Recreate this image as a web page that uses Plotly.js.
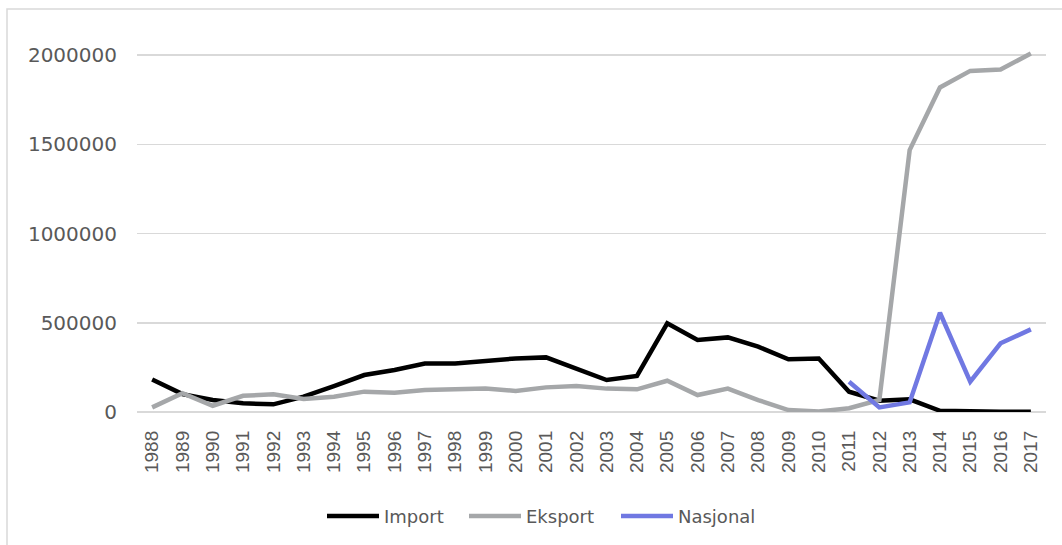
<!DOCTYPE html>
<html>
<head>
<meta charset="utf-8">
<script src="https://cdn.plot.ly/plotly-3.0.1.min.js"></script>
<style>html,body{margin:0;padding:0;background:#fff;}#chart{width:1062px;height:545px;}</style>
</head>
<body>
<div id="chart"></div>
<script>
const years = ['1988','1989','1990','1991','1992','1993','1994','1995','1996','1997','1998','1999','2000','2001','2002','2003','2004','2005','2006','2007','2008','2009','2010','2011','2012','2013','2014','2015','2016','2017'];
const importVals = [182000,100000,67000,49000,43000,86000,145000,207000,235000,272000,272000,287000,300000,306000,245000,179000,202000,497000,403000,418000,366000,295000,300000,114000,63000,71000,7000,2000,1000,1000];
const eksportVals = [26000,105000,35000,91000,99000,73000,86000,114000,108000,123000,127000,131000,118000,138000,146000,131000,127000,175000,95000,131000,67000,11000,3000,21000,67000,1467000,1818000,1911000,1919000,2008000];
const nasjonalVals = [null,null,null,null,null,null,null,null,null,null,null,null,null,null,null,null,null,null,null,null,null,null,null,170000,26000,54000,556000,170000,385000,463000];
const seriesNames = ['Import','Eksport','Nasjonal'];
const seriesColors = ['#000000','#A5A7A9','#7078E2'];
const yTicks = [0,500000,1000000,1500000,2000000];

const W = 1062, H = 545;
const L = 137, R = 16, T = 50, B = 133;
const pw = W - L - R, ph = H - T - B;
const yTop = ph / 357 * 2000000;
const px = v => (v - L) / pw;
const py = v => (H - B - v) / ph;

function tr(name, vals, color) {
  return {x: years, y: vals, name: name, type: 'scatter', mode: 'lines',
    line: {color: color, width: 4.5, shape: 'linear'}, connectgaps: false, hoverinfo: 'x+y'};
}
const data = [
  tr(seriesNames[0], importVals, seriesColors[0]),
  tr(seriesNames[1], eksportVals, seriesColors[1]),
  tr(seriesNames[2], nasjonalVals, seriesColors[2])
];

// custom legend (line swatches + labels)
const legX = [327, 469, 621];
const legY = 516;
const shapes = [{type: 'rect', xref: 'paper', yref: 'paper',
  x0: px(7), x1: px(W + 10), y0: py(H + 20), y1: py(9),
  line: {color: '#D9D9D9', width: 1.5}, fillcolor: 'rgba(0,0,0,0)', layer: 'below'}];
const annotations = [];
seriesNames.forEach((n, i) => {
  shapes.push({type: 'line', xref: 'paper', yref: 'paper', x0: px(legX[i]), x1: px(legX[i] + 52),
    y0: py(legY), y1: py(legY), line: {color: seriesColors[i], width: 4.5}});
  annotations.push({xref: 'paper', yref: 'paper', x: px(legX[i] + 55), y: py(legY), xanchor: 'left', yanchor: 'middle',
    text: n, showarrow: false, font: {family: 'DejaVu Sans', size: 18, color: '#595959'}});
});

const layout = {
  width: W, height: H,
  margin: {l: L, r: R, t: T, b: B, pad: 0},
  paper_bgcolor: '#ffffff', plot_bgcolor: '#ffffff',
  showlegend: false,
  xaxis: {type: 'category', range: [-0.5, years.length - 0.5], tickangle: -90, showgrid: false, zeroline: false,
    showline: false, ticks: '', ticklabelstandoff: 14,
    tickfont: {family: 'Liberation Sans', size: 19, color: '#595959'}, fixedrange: true},
  yaxis: {range: [0, yTop], tickvals: yTicks, ticktext: yTicks.map(String), showgrid: true,
    gridcolor: '#D9D9D9', gridwidth: 1.5, zeroline: true, zerolinecolor: '#D9D9D9', zerolinewidth: 1.5,
    showline: false, ticks: '', ticklabelstandoff: 19,
    tickfont: {family: 'DejaVu Sans', size: 20, color: '#595959'}, fixedrange: true},
  shapes: shapes,
  annotations: annotations
};
Plotly.newPlot('chart', data, layout, {displayModeBar: false, staticPlot: true});
</script>
</body>
</html>
